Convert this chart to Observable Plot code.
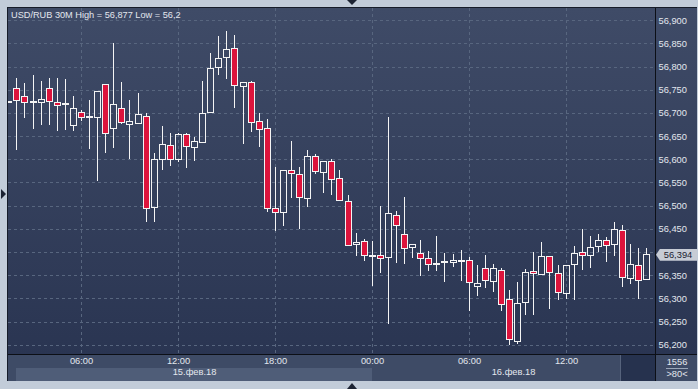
<!DOCTYPE html>
<html><head><meta charset="utf-8">
<script src="https://cdn.jsdelivr.net/npm/d3@7"></script>
<script src="https://cdn.jsdelivr.net/npm/@observablehq/plot@0.6"></script>
<style>
html,body{margin:0;padding:0;background:#c2ccd9;}
#wrap{position:relative;width:698px;height:389px;overflow:hidden;background:#c2ccd9;font-family:"Liberation Sans",Arial,sans-serif;}
.abs{position:absolute;}
#wrap svg{position:absolute;left:0;top:0;}
.lbl{position:absolute;color:#e3e7ee;font-size:9.3px;line-height:10px;white-space:nowrap;text-align:center;}
</style></head><body><div id="wrap">
<div class="abs" style="left:7px;top:7px;width:690px;height:374px;border-left:1px solid #161c29;border-top:1px solid #161c29;box-sizing:border-box;background:linear-gradient(#3f4b67 0%,#2a3552 93%,#2a3552 100%);"></div>
<div class="abs" style="left:8px;top:354px;width:689px;height:27px;background:#3e4b66;"></div>
<div class="abs" id="band15" style="top:368px;height:13px;background:#4f5d78;"></div>
<div class="abs" style="left:620px;top:355px;width:1px;height:26px;background:#56637c;"></div>
<div class="abs" style="left:621px;top:355px;width:34px;height:26px;background:#26324e;"></div>
</div>
<script>
// ---- data (USD/RUB, 30-minute candles, 15–16 Feb 2018) ----
const open  = [56.722,56.752,56.736,56.723,56.723,56.752,56.723,56.718,56.673,56.701,
               56.690,56.691,56.762,56.667,56.710,56.676,56.678,56.693,56.496,56.600,
               56.630,56.600,56.654,56.626,56.637,56.701,56.799,56.820,56.840,56.758,
               56.766,56.682,56.667,56.494,56.486,56.575,56.568,56.516,56.605,56.572,
               56.596,56.559,56.509,56.416,56.423,56.391,56.393,56.389,56.479,56.438,
               56.410,56.397,56.386,56.373,56.378,56.378,56.379,56.382,56.326,56.365,
               56.336,56.361,56.298,56.207,56.291,56.358,56.352,56.391,56.354,56.310,
               56.373,56.399,56.393,56.412,56.425,56.417,56.447,56.343,56.371,56.341];
const high  = [56.724,56.775,56.765,56.782,56.769,56.775,56.775,56.773,56.737,56.706,
               56.728,56.747,56.763,56.850,56.767,56.727,56.743,56.699,56.613,56.672,
               56.657,56.657,56.656,56.648,56.769,56.829,56.866,56.877,56.868,56.766,
               56.769,56.699,56.687,56.584,56.576,56.640,56.584,56.620,56.611,56.596,
               56.600,56.577,56.523,56.440,56.427,56.424,56.499,56.691,56.488,56.519,
               56.417,56.426,56.403,56.435,56.397,56.396,56.404,56.389,56.372,56.394,
               56.374,56.365,56.318,56.335,56.363,56.400,56.422,56.391,56.372,56.371,
               56.413,56.450,56.435,56.439,56.432,56.465,56.458,56.418,56.408,56.408];
const low   = [56.722,56.620,56.690,56.665,56.674,56.674,56.662,56.663,56.662,56.683,
               56.623,56.554,56.614,56.625,56.676,56.601,56.678,56.465,56.465,56.577,
               56.586,56.595,56.582,56.597,56.637,56.701,56.782,56.773,56.711,56.634,
               56.660,56.627,56.487,56.446,56.457,56.516,56.450,56.498,56.568,56.528,
               56.523,56.511,56.414,56.391,56.381,56.327,56.355,56.244,56.377,56.375,
               56.388,56.349,56.360,56.360,56.335,56.368,56.338,56.273,56.304,56.323,
               56.314,56.273,56.200,56.202,56.263,56.263,56.352,56.278,56.297,56.299,
               56.297,56.361,56.366,56.399,56.378,56.391,56.325,56.330,56.299,56.339];
const close = [56.724,56.727,56.723,56.725,56.730,56.725,56.717,56.720,56.710,56.691,
               56.692,56.747,56.655,56.719,56.680,56.682,56.697,56.494,56.600,56.632,
               56.600,56.654,56.627,56.639,56.699,56.796,56.818,56.837,56.759,56.766,
               56.680,56.665,56.494,56.486,56.576,56.570,56.518,56.607,56.574,56.596,
               56.556,56.511,56.414,56.421,56.393,56.393,56.386,56.484,56.458,56.408,
               56.417,56.386,56.373,56.376,56.380,56.382,56.381,56.335,56.333,56.339,
               56.365,56.287,56.212,56.289,56.356,56.353,56.391,56.356,56.313,56.371,
               56.397,56.393,56.410,56.425,56.414,56.449,56.345,56.373,56.339,56.394];

const yTicks      = [56.20,56.25,56.30,56.35,56.40,56.45,56.50,56.55,56.60,56.65,56.70,56.75,56.80,56.85,56.90];
const yTickLabels = ["56,200","56,250","56,300","56,350","56,400","56,450","56,500","56,550",
                     "56,600","56,650","56,700","56,750","56,800","56,850","56,900"];
const timeIdx     = [9, 21, 33, 45, 57, 69];
const timeLabels  = ["06:00","12:00","18:00","00:00","06:00","12:00"];
const dateLabels  = ["15.фев.18","16.фев.18"];
const dateStart   = [0.95, 45];
const dateEnd     = [45, 80.07];

const rows = open.map((o, i) => ({i, open: o, high: high[i], low: low[i], close: close[i]}));
const dates = dateLabels.map((label, k) => ({label, start: dateStart[k], end: dateEnd[k]}));
const last = close[close.length - 1];
// the tick label hidden under the last-price marker is not drawn (as in the reference)
const shownTicks = yTicks.map((v, k) => ({v, label: yTickLabels[k]})).filter(t => Math.abs(t.v - last) > 0.02);

const RED = "#dc143c", WHITE = "#f4f4f4", GRID = "#58667f", TXT = "#e3e7ee";
const body = {x1: d => d.i - 0.37, x2: d => d.i + 0.37, y1: "open", y2: "close", stroke: WHITE, strokeWidth: 1, clip: true};

const chart = Plot.plot({
  width: 698, height: 389,
  marginLeft: 8, marginRight: 43, marginTop: 8, marginBottom: 35,
  x: {domain: [-0.04, 80.07], axis: null, round: true},
  y: {domain: [56.1799, 56.9265], axis: null},
  style: {background: "transparent", fontFamily: "'Liberation Sans', Arial, sans-serif", fontSize: "9.3px", overflow: "visible"},
  marks: [
    Plot.ruleY(yTicks, {stroke: GRID, strokeDasharray: "3,3", shapeRendering: "crispEdges"}),
    Plot.ruleX(timeIdx, {stroke: GRID, strokeDasharray: "3,3", shapeRendering: "crispEdges"}),
    Plot.ruleX(rows, {x: "i", y1: "high", y2: d => Math.max(d.open, d.close), stroke: WHITE, clip: true, shapeRendering: "crispEdges"}),
    Plot.ruleX(rows, {x: "i", y1: d => Math.min(d.open, d.close), y2: "low", stroke: WHITE, clip: true, shapeRendering: "crispEdges"}),
    Plot.rect(rows.filter(d => d.close < d.open), {...body, fill: RED, shapeRendering: "crispEdges"}),
    Plot.rect(rows.filter(d => d.close >= d.open), {...body, fill: "none", shapeRendering: "crispEdges"}),
    Plot.text(shownTicks, {y: "v", text: "label", frameAnchor: "right", dx: 3, textAnchor: "start", fill: TXT}),
    Plot.text(timeIdx, {x: d => d, text: (d, k) => timeLabels[k], frameAnchor: "bottom", dy: 9, fill: TXT}),
    Plot.text(dates, {x: d => (d.start + d.end) / 2, text: "label", frameAnchor: "bottom", dy: 20, fill: TXT})
  ]
});
const wrap = document.getElementById("wrap");
wrap.appendChild(chart);

const sx = chart.scale("x"), sy = chart.scale("y");
const b = document.getElementById("band15");
b.style.left = Math.round(sx.apply(dateStart[0])) + "px";
b.style.width = (Math.round(sx.apply(dateEnd[0])) - Math.round(sx.apply(dateStart[0]))) + "px";

function add(html) { wrap.insertAdjacentHTML("beforeend", html); }
// frame separators
add(`<div class="abs" style="left:655px;top:8px;width:1px;height:373px;background:#0c0f16"></div>`);
add(`<div class="abs" style="left:8px;top:354px;width:689px;height:1px;background:#0c0f16"></div>`);
// title
const fmt = v => String(v).replace(".", ",");
add(`<div class="lbl" style="left:11px;top:10px;text-align:left;font-size:9.2px;">USD/RUB 30M High = ${fmt(d3.max(high))} Low = ${fmt(d3.min(low))}</div>`);
// bars info
add(`<div class="lbl" style="left:657px;top:357px;width:40px;">1556</div>`);
add(`<div class="abs" style="left:666px;top:368px;width:22px;height:1px;background:#9aa6b8"></div>`);
add(`<div class="lbl" style="left:657px;top:369px;width:40px;">&gt;${rows.length}&lt;</div>`);
// last price label
const py = sy.apply(last);
add(`<div class="abs" style="left:656px;top:${(py - 6).toFixed(1)}px;width:41px;height:12px;background:#c7ccd5;clip-path:polygon(0 50%,4px 0,100% 0,100% 100%,4px 100%);"></div>`);
add(`<div class="lbl" style="left:660px;top:${(py - 5).toFixed(1)}px;width:36px;color:#1b2130;">${last.toFixed(3).replace(".", ",")}</div>`);
// small scroll markers
add(`<div class="abs" style="left:347px;top:0px;width:0;height:0;border-left:5px solid transparent;border-right:5px solid transparent;border-top:5px solid #1c2333"></div>`);
add(`<div class="abs" style="left:347px;top:383px;width:0;height:0;border-left:5px solid transparent;border-right:5px solid transparent;border-bottom:6px solid #1c2333"></div>`);
add(`<div class="abs" style="left:1px;top:189px;width:0;height:0;border-top:5px solid transparent;border-bottom:5px solid transparent;border-left:5px solid #1c2333"></div>`);
</script>
</body></html>
